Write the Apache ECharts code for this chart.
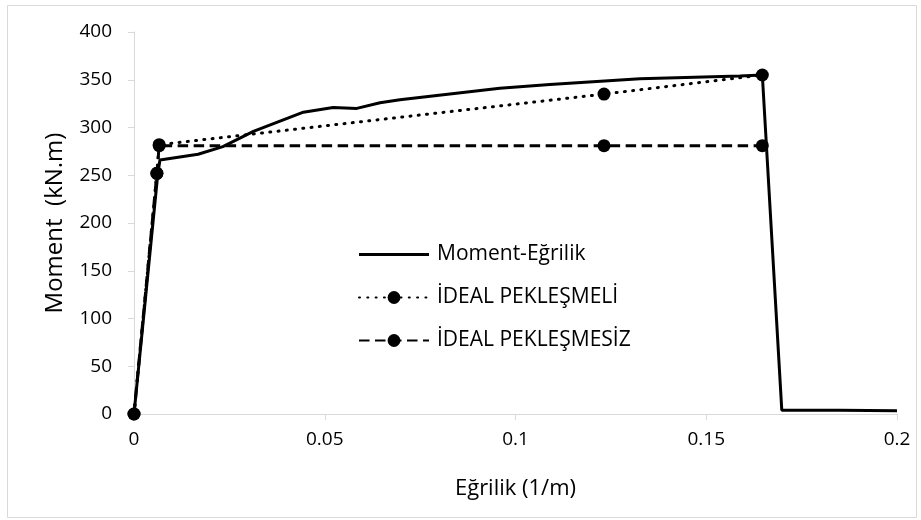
<!DOCTYPE html>
<html>
<head>
<meta charset="utf-8">
<script src="https://cdn.jsdelivr.net/npm/echarts@6/dist/echarts.min.js"></script>
<style>
html,body{margin:0;padding:0;background:#fff;}
#c{width:921px;height:520px;}
</style>
</head>
<body>
<div id="c"></div>
<script>
// Moment-Eğrilik curve: [curvature (1/m), moment (kN.m)]
var momentCurvX = [0, 0.0062, 0.0068, 0.0168, 0.0233, 0.0313, 0.0444, 0.0522, 0.0584, 0.0645, 0.0697, 0.0828, 0.0959, 0.109, 0.1326, 0.1588, 0.1647, 0.1698, 0.185, 0.2];
var momentCurvY = [0, 250, 266, 272, 280, 296, 316, 321, 320, 326, 329, 335, 341, 345, 351, 354, 355, 4, 4, 3.5];
// İDEAL PEKLEŞMELİ
var pekX = [0, 0.0060, 0.0066, 0.1232, 0.1647];
var pekY = [0, 252, 282, 335, 355];
// İDEAL PEKLEŞMESİZ
var pksX = [0, 0.0060, 0.0066, 0.1232, 0.1647];
var pksY = [0, 252, 281, 281, 281];

var seriesNames = ['Moment-Eğrilik', 'İDEAL PEKLEŞMELİ', 'İDEAL PEKLEŞMESİZ'];
var xTicks = [0, 0.05, 0.1, 0.15, 0.2];
var yTicks = [0, 50, 100, 150, 200, 250, 300, 350, 400];

function zip(a, b){ return a.map(function(v,i){ return [v, b[i]]; }); }

var FONT = 'Open Sans';
var chart = echarts.init(document.getElementById('c'), null, {renderer:'canvas'});
chart.setOption({
  animation: false,
  backgroundColor: '#fff',
  textStyle: {fontFamily: FONT},
  graphic: [{
    type: 'rect', left: 5, top: 3, shape: {width: 909, height: 512},
    style: {fill: 'none', stroke: '#d9d9d9', lineWidth: 1}, silent: true, z: -1
  }],
  grid: {left: 134, right: 24, top: 32, bottom: 106},
  legend: {
    orient: 'vertical', left: 358, top: 244, padding: 0,
    itemWidth: 70, itemHeight: 16, itemGap: 22,
    textStyle: {fontFamily: FONT, fontSize: 21, color: '#000', padding: [0, 0, 0, 3]},
    data: [
      {name: seriesNames[0], icon: 'path://M0,0L100,0L100,4.3L0,4.3Z'},
      {name: seriesNames[1]},
      {name: seriesNames[2]}
    ]
  },
  xAxis: {
    type: 'value', min: 0, max: 0.2, interval: 0.05,
    name: 'Eğrilik (1/m)', nameLocation: 'middle', nameGap: 64,
    nameTextStyle: {fontFamily: FONT, fontSize: 22, color: '#000'},
    axisLine: {show: true, lineStyle: {color: '#d9d9d9', width: 1}},
    axisTick: {show: true, length: 6, lineStyle: {color: '#d9d9d9'}},
    axisLabel: {fontFamily: FONT, fontSize: 19, color: '#000', margin: 16,
      formatter: function(v){ return String(+v.toFixed(2)); }},
    splitLine: {show: false}
  },
  yAxis: {
    type: 'value', min: 0, max: 400, interval: 50,
    name: 'Moment  (kN.m)', nameLocation: 'middle', nameGap: 67,
    nameTextStyle: {fontFamily: FONT, fontSize: 24, color: '#000'},
    axisLine: {show: true, lineStyle: {color: '#d9d9d9', width: 1}},
    axisTick: {show: true, length: 6, lineStyle: {color: '#d9d9d9'}},
    axisLabel: {fontFamily: FONT, fontSize: 19, color: '#000', margin: 22},
    splitLine: {show: false}
  },
  series: [
    {
      name: seriesNames[0], type: 'line', data: zip(momentCurvX, momentCurvY),
      showSymbol: false, symbol: 'none',
      lineStyle: {color: '#000', width: 3, type: 'solid'},
      itemStyle: {color: '#000'}, z: 3
    },
    {
      name: seriesNames[1], type: 'line', data: zip(pekX, pekY),
      symbol: 'circle', symbolSize: 13,
      lineStyle: {color: '#000', width: 3, type: [1, 7.3], cap: 'round'},
      itemStyle: {color: '#000'}, z: 4
    },
    {
      name: seriesNames[2], type: 'line', data: zip(pksX, pksY),
      symbol: 'circle', symbolSize: 13,
      lineStyle: {color: '#000', width: 3, type: [10.5, 5.5]},
      itemStyle: {color: '#000'}, z: 4
    }
  ]
});
</script>
</body>
</html>
